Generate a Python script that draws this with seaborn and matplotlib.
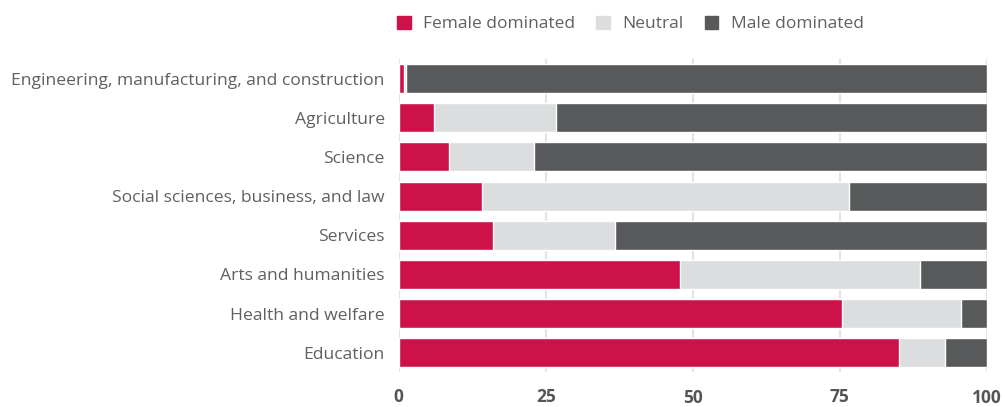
import numpy as np
import pandas as pd
import matplotlib
matplotlib.use("Agg")
import matplotlib.pyplot as plt
import seaborn as sns

fields = ["Engineering, manufacturing, and construction", "Agriculture", "Science",
          "Social sciences, business, and law", "Services", "Arts and humanities",
          "Health and welfare", "Education"]
female = [1.0, 6.1, 8.5, 14.1, 16.0, 47.9, 75.4, 85.1]
neutral = [0.2, 20.6, 14.5, 62.5, 20.8, 40.7, 20.2, 7.8]
male = [100 - f - n for f, n in zip(female, neutral)]

colors = {"Female dominated": "#cc1248", "Neutral": "#dcdddf", "Male dominated": "#58595b"}

df = pd.DataFrame({"field": fields, "female": female, "neutral": neutral, "male": male})
df["f_n"] = df.female + df.neutral
df["total"] = df.f_n + df.male

sns.set_style("white")
plt.rcParams["font.family"] = ["Open Sans", "DejaVu Sans"]

fig, ax = plt.subplots(figsize=(10.04, 4.07), dpi=100)
fig.subplots_adjust(left=0.397, right=0.983, top=0.855, bottom=0.085)

# stacked bars: draw cumulative totals back to front
for col, key in [("total", "Male dominated"), ("f_n", "Neutral"), ("female", "Female dominated")]:
    sns.barplot(data=df, y="field", x=col, color=colors[key], width=0.74, saturation=1,
                ax=ax, orient="h", zorder=2)

ax.set_xlim(0, 100)
ax.set_xticks([0, 25, 50, 75, 100])
ax.set_xlabel("")
ax.set_ylabel("")
ax.grid(axis="x", color="#e3e3e3", lw=1.5, zorder=0)
for s in ax.spines.values():
    s.set_visible(False)
ax.tick_params(axis="y", length=0, pad=10, labelsize=12.6, labelcolor="#606060")
ax.tick_params(axis="x", length=0, pad=11, labelsize=12.5, labelcolor="#555555")
for i, t in enumerate(ax.get_xticklabels()):
    t.set_fontweight("bold")
    if i % 2 == 0 and i > 0:
        t.set_y(-0.005)

handles = [plt.Rectangle((0, 0), 1, 1, color=c) for c in colors.values()]
fig.legend(handles, list(colors.keys()), loc="upper center", bbox_to_anchor=(0.628, 1.0),
           ncol=3, frameon=False, fontsize=12.5, labelcolor="#606060",
           handlelength=0.8, handleheight=0.8, handletextpad=0.7, columnspacing=1.2)

fig.savefig("out.png", dpi=100)
